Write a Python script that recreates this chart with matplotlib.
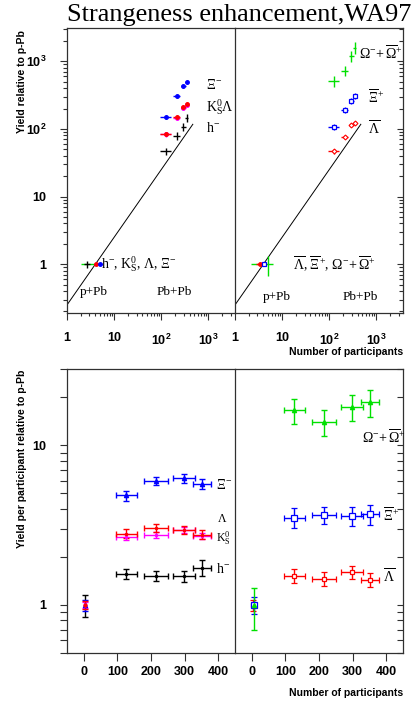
import numpy as np
import matplotlib.pyplot as plt
from matplotlib.ticker import FixedLocator, FixedFormatter, LogLocator, NullFormatter

plt.rcParams['font.family'] = ['Liberation Sans', 'DejaVu Sans']
plt.rcParams['mathtext.fontset'] = 'custom'
plt.rcParams['mathtext.rm'] = 'Liberation Serif'
plt.rcParams['mathtext.it'] = 'Liberation Serif:italic'
plt.rcParams['mathtext.bf'] = 'Liberation Sans:bold'
plt.rcParams['mathtext.default'] = 'rm'

# Pb+Pb centrality classes (number of participants)
n_part = [127, 215, 297, 352]
n_err = [32, 35, 33, 27]

# top: yield relative to p-Pb
xi_rel = [150, 307, 433, 494]
lam_rel = [85, 150, 210, 234]
k0s_rel = [83, 145, 205, 228]
hm_rel = [47, 79, 107, 145]
omega_rel = [512, 720, 1200, 1580]
axi_rel = [107, 190, 258, 307]
alam_rel = [47, 76, 114, 123]

xi_rel_err = [10, 20, 30, 35]
lam_rel_err = [6, 10, 14, 16]
hm_rel_err = [6, 10, 15, 20]
omega_rel_err = [100, 120, 220, 320]
axi_rel_err = [10, 18, 25, 30]
alam_rel_err = [4, 6, 9, 10]

# reference line (yield proportional to participants)
line_n = [1, 470]
line_y = [0.25, 117]

# p+Pb points in top panels
ppb_x_left = {'h': 2.7, 'lam': 4.2, 'xi': 5.0, 'g': 3.0}
ppb_x_right = {'alam': 3.4, 'axi': 4.1, 'omega': 5.0}

# bottom: yield per participant relative to p-Pb
xi_pp = [4.85, 5.95, 6.2, 5.7]
lam_pp = [2.8, 3.05, 2.95, 2.75]
k0s_pp = [2.68, 2.75, 2.95, 2.72]
hm_pp = [1.57, 1.52, 1.52, 1.71]
omega_pp = [16.6, 14.0, 17.3, 18.6]
axi_pp = [3.52, 3.68, 3.6, 3.7]
alam_pp = [1.52, 1.46, 1.61, 1.44]

xi_pp_err = [0.35, 0.35, 0.4, 0.4]
lam_pp_err = [0.18, 0.18, 0.18, 0.18]
k0s_pp_err = [0.12, 0.12, 0.12, 0.12]
hm_pp_err = [0.11, 0.11, 0.12, 0.2]
omega_pp_err = [3.0, 2.6, 3.2, 3.6]
axi_pp_err = [0.5, 0.45, 0.5, 0.55]
alam_pp_err = [0.15, 0.14, 0.15, 0.15]

W, H = 416, 704
fig = plt.figure(figsize=(W / 100, H / 100), dpi=100)


def box(x0, y0, x1, y1):
    return [x0 / W, 1 - y1 / H, (x1 - x0) / W, (y1 - y0) / H]


frame = '#303030'
ax_tl = fig.add_axes(box(67, 28, 235, 313))
ax_tr = fig.add_axes(box(235, 28, 403, 313))
ax_bl = fig.add_axes(box(67, 369, 235, 653))
ax_br = fig.add_axes(box(235, 369, 403, 653))

for ax in (ax_tl, ax_tr, ax_bl, ax_br):
    for s in ax.spines.values():
        s.set_color(frame)
        s.set_linewidth(0.9)
    ax.tick_params(which='both', color=frame, width=0.8, labelsize=9)
    for lab in ax.get_xticklabels() + ax.get_yticklabels():
        lab.set_fontweight('bold')

# ---- top panels: log-log ----
top_ylim = (0.19, 3100)
top_xlim = (1, 3700)
dec_lbl = ['1', '10', r'$\mathbf{10^{2}}$', r'$\mathbf{10^{3}}$']
for ax in (ax_tl, ax_tr):
    ax.set_xscale('log')
    ax.set_yscale('log')
    ax.set_xlim(*top_xlim)
    ax.set_ylim(*top_ylim)
    ax.xaxis.set_major_locator(FixedLocator([1, 10, 100, 1000]))
    ax.xaxis.set_major_formatter(FixedFormatter(dec_lbl))
    ax.xaxis.set_minor_locator(LogLocator(base=10, subs=np.arange(2, 10)))
    ax.xaxis.set_minor_formatter(NullFormatter())
    ax.yaxis.set_major_locator(FixedLocator([1, 10, 100, 1000]))
    ax.yaxis.set_major_formatter(FixedFormatter(dec_lbl))
    ax.yaxis.set_minor_locator(LogLocator(base=10, subs=np.arange(2, 10)))
    ax.yaxis.set_minor_formatter(NullFormatter())
    ax.tick_params(axis='x', which='major', direction='out', length=5, pad=9, top=False)
    ax.tick_params(axis='x', which='minor', direction='out', length=2.5, top=False)
    ax.plot(line_n, line_y, color='black', lw=0.7)

ax_tl.tick_params(axis='y', which='major', direction='out', length=5, pad=10, right=False)
ax_tl.tick_params(axis='y', which='minor', direction='out', length=3, right=False)
ax_tr.tick_params(axis='y', which='major', direction='in', length=4, left=False, right=True,
                  labelleft=False)
ax_tr.tick_params(axis='y', which='minor', direction='in', length=3, left=False, right=True)

ekw = dict(ls='none', elinewidth=1, capsize=0)
# top-left Pb+Pb
ax_tl.errorbar(n_part, hm_rel, xerr=n_err, yerr=hm_rel_err, color='black', marker='', **ekw)
ax_tl.errorbar(n_part, k0s_rel, xerr=n_err, yerr=lam_rel_err, color='magenta', marker='o', ms=2.5, **ekw)
ax_tl.errorbar(n_part, lam_rel, xerr=n_err, yerr=lam_rel_err, color='red', marker='o', ms=2.5, **ekw)
ax_tl.errorbar(n_part, xi_rel, xerr=n_err, yerr=xi_rel_err, color='blue', marker='o', ms=2.5, **ekw)
# top-left p+Pb
ax_tl.errorbar([ppb_x_left['g']], [1], xerr=[1.0], color='#00e000', **ekw)
ax_tl.errorbar([ppb_x_left['h']], [1], xerr=[0.4], yerr=[0.12], color='black', **ekw)
ax_tl.errorbar([ppb_x_left['lam']], [1], xerr=[0.4], color='red', marker='o', ms=2.5, **ekw)
ax_tl.errorbar([ppb_x_left['xi']], [1], xerr=[0.5], color='blue', marker='o', ms=2.5, **ekw)

# top-right Pb+Pb
ax_tr.errorbar(n_part, omega_rel, xerr=n_err, yerr=omega_rel_err, color='#00e000', marker='', **ekw)
ax_tr.errorbar(n_part, axi_rel, xerr=n_err, yerr=axi_rel_err, color='blue', marker='s', ms=3.5,
               mfc='white', mew=0.9, **ekw)
ax_tr.errorbar(n_part, alam_rel, xerr=n_err, yerr=alam_rel_err, color='red', marker='D', ms=2.5,
               mfc='white', mew=0.8, **ekw)
# top-right p+Pb
ax_tr.errorbar([ppb_x_right['omega']], [1], xerr=[[2.8], [1.4]], yerr=[[0.34], [0.32]],
               color='#00e000', **ekw)
ax_tr.errorbar([ppb_x_right['alam']], [1], xerr=[0.6], color='red', marker='o', ms=2.5, **ekw)
ax_tr.errorbar([ppb_x_right['axi']], [1], xerr=[0.5], color='blue', marker='s', ms=3,
               mfc='white', mew=0.9, **ekw)

# ---- bottom panels: linear x, log y ----
for ax in (ax_bl, ax_br):
    ax.set_yscale('log')
    ax.set_xlim(-50, 450)
    ax.set_ylim(0.5, 30)
    ax.xaxis.set_major_locator(FixedLocator([0, 100, 200, 300, 400]))
    ax.xaxis.set_major_formatter(FixedFormatter(['0', '100', '200', '300', '400']))
    ax.yaxis.set_major_locator(FixedLocator([1, 10]))
    ax.yaxis.set_major_formatter(FixedFormatter(['1', '10']))
    ax.yaxis.set_minor_locator(LogLocator(base=10, subs=np.arange(2, 10)))
    ax.yaxis.set_minor_formatter(NullFormatter())
    ax.tick_params(axis='x', which='major', direction='out', length=5.5, pad=4, top=False)

ax_bl.tick_params(axis='y', which='major', direction='out', length=5, pad=10, right=False)
ax_bl.tick_params(axis='y', which='minor', direction='out', length=5, right=False)
ax_br.tick_params(axis='y', which='major', direction='in', length=4, left=False, right=True,
                  labelleft=False)
ax_br.tick_params(axis='y', which='minor', direction='in', length=4, left=False, right=True)

bkw = dict(ls='none', elinewidth=1, capsize=2, capthick=1)
ax_bl.errorbar(n_part, hm_pp, xerr=n_err, yerr=hm_pp_err, color='black', marker='o', ms=1.5, **bkw)
ax_bl.errorbar(n_part, k0s_pp, xerr=n_err, yerr=k0s_pp_err, color='magenta', marker='o', ms=1.5, **bkw)
ax_bl.errorbar(n_part, lam_pp, xerr=n_err, yerr=lam_pp_err, color='red', marker='o', ms=1.5, **bkw)
ax_bl.errorbar(n_part, xi_pp, xerr=n_err, yerr=xi_pp_err, color='blue', marker='^', ms=3, **bkw)
ax_bl.errorbar([4], [1], yerr=[0.16], color='black', **bkw)
ax_bl.errorbar([4], [1], yerr=[0.08], color='blue', marker='^', ms=3, **bkw)
ax_bl.errorbar([4], [1], yerr=[0.05], color='magenta', marker='o', ms=2, **bkw)
ax_bl.errorbar([4], [1], yerr=[0.06], color='red', marker='o', ms=2, **bkw)

ax_br.errorbar(n_part, omega_pp, xerr=n_err, yerr=omega_pp_err, color='#00e000', marker='^', ms=3, **bkw)
ax_br.errorbar(n_part, axi_pp, xerr=n_err, yerr=axi_pp_err, color='blue', marker='s', ms=4,
               mfc='white', mew=0.9, **bkw)
ax_br.errorbar(n_part, alam_pp, xerr=n_err, yerr=alam_pp_err, color='red', marker='s', ms=3.5,
               mfc='white', mew=0.9, **bkw)
ax_br.errorbar([4], [1], yerr=[0.08], color='red', marker='s', ms=3.5, mfc='white', mew=0.9, **bkw)
ax_br.errorbar([7], [1], yerr=[0.12], color='blue', marker='s', ms=4, mfc='white', mew=0.9, **bkw)
ax_br.errorbar([8], [1], yerr=[[0.30], [0.28]], color='#00e000', marker='^', ms=3, **bkw)

# right panels are see-through so the shared divider stays solid
for ax in (ax_tr, ax_br):
    ax.patch.set_visible(False)
for ax in (ax_tl, ax_bl):
    ax.spines['right'].set_visible(False)

# ---- text ----
serif = 'Liberation Serif'


def ftext(x, y, s, **kw):
    kw.setdefault('fontsize', 10)
    kw.setdefault('va', 'center')
    kw.setdefault('ha', 'left')
    fig.text(x / W, 1 - y / H, s, family=serif, **kw)


fig.text(67 / W, 1 - 21 / H, 'Strangeness enhancement,WA97', family=serif, fontsize=18.9,
         ha='left', va='baseline')

ftext(206, 85, r'$\Xi^{-}$')
ftext(206, 107, r'$\mathrm{K^{0}_{S}}\Lambda$')
ftext(206, 128, r'$\mathrm{h}^{-}$')
ftext(101, 264, r'$\mathrm{h}^{-}$, $\mathrm{K^{0}_{S}}$, $\Lambda$, $\Xi^{-}$')
ftext(80, 292, 'p+Pb', fontsize=9.5)
ftext(157, 292, 'Pb+Pb', fontsize=9.5)

ftext(359, 53, r'$\Omega^{-}\!+\overline{\Omega}^{+}$')
ftext(368, 97, r'$\overline{\Xi}^{+}$')
ftext(368, 128, r'$\overline{\Lambda}$')
ftext(293, 264, r'$\overline{\Lambda}$, $\overline{\Xi}^{+}$, $\Omega^{-}\!+\overline{\Omega}^{+}$')
ftext(263, 297, 'p+Pb', fontsize=9.5)
ftext(343, 297, 'Pb+Pb', fontsize=9.5)

ftext(216, 485, r'$\Xi^{-}$')
ftext(217, 519, r'$\Lambda$', fontsize=8.5)
ftext(216, 538, r'$\mathrm{K^{0}_{S}}$', fontsize=8.5)
ftext(216, 569, r'$\mathrm{h}^{-}$')

ftext(362, 437, r'$\Omega^{-}\!+\overline{\Omega}^{+}$')
ftext(383, 515, r'$\overline{\Xi}^{+}$')
ftext(383, 576, r'$\overline{\Lambda}$')

fig.text(22 / W, 1 - 30 / H, 'Yield relative to p-Pb', rotation=90, ha='center', va='top',
         fontsize=7.5, fontweight='bold')
fig.text(22 / W, 1 - 370 / H, 'Yield per participant relative to p-Pb', rotation=90,
         ha='center', va='top', fontsize=7.5, fontweight='bold')
fig.text(403 / W, 1 - 352 / H, 'Number of participants', ha='right', va='center',
         fontsize=7.5, fontweight='bold')
fig.text(403 / W, 1 - 693 / H, 'Number of participants', ha='right', va='center',
         fontsize=7.5, fontweight='bold')

fig.savefig('out.png', dpi=100)
